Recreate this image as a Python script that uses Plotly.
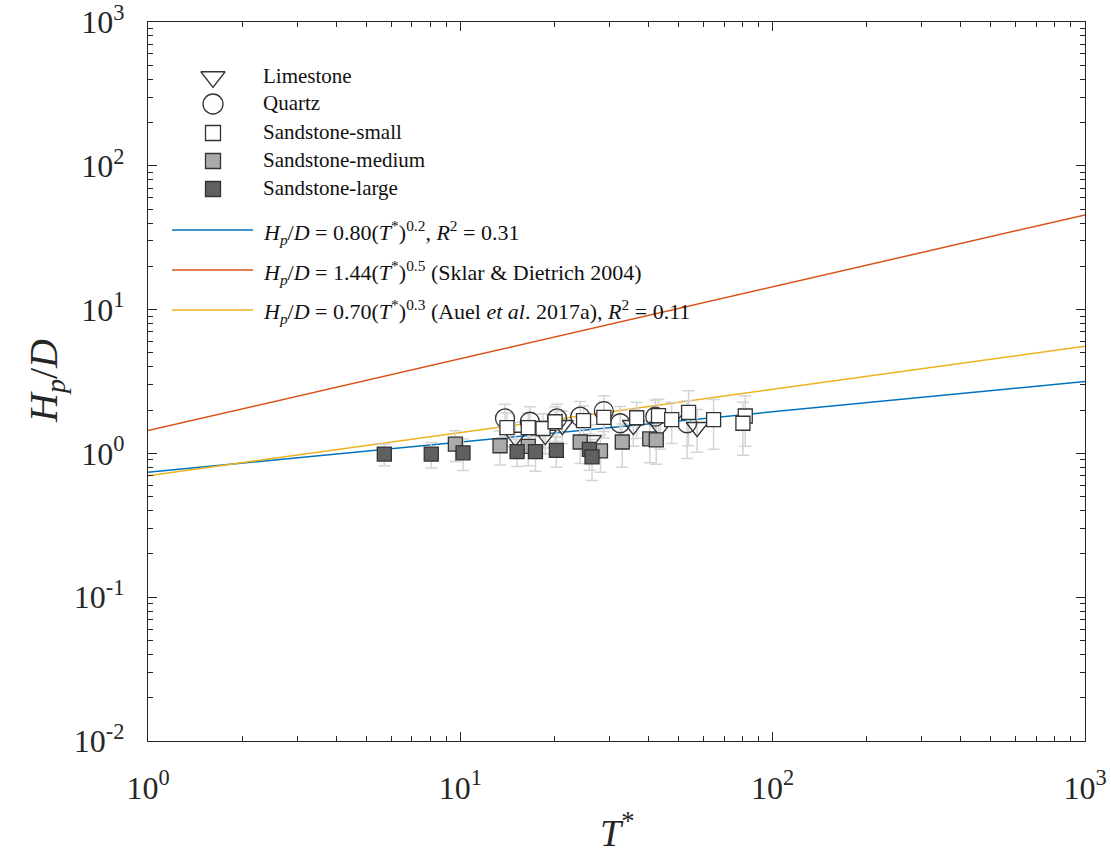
import plotly.graph_objects as go

# ---------------- data ----------------
lime_T = [15.0, 18.7, 21.2, 26.1, 35.8, 43.6, 57.3]
lime_H = [1.30, 1.34, 1.57, 1.23, 1.57, 1.52, 1.52]
lime_E = [0.35, 0.35, 0.40, 0.35, 0.45, 0.45, 0.50]

quartz_T = [13.9, 16.7, 20.4, 24.2, 28.8, 32.5, 42.1, 53.2]
quartz_H = [1.75, 1.66, 1.75, 1.80, 1.97, 1.62, 1.80, 1.62]
quartz_E = [0.45, 0.45, 0.45, 0.50, 0.55, 0.50, 0.55, 0.70]

ss_small_T = [14.1, 16.5, 18.4, 20.1, 24.8, 28.8, 36.7, 43.1, 47.5, 53.8, 64.7, 81.7, 80.3]
ss_small_H = [1.51, 1.51, 1.49, 1.66, 1.69, 1.78, 1.77, 1.83, 1.72, 1.93, 1.72, 1.82, 1.62]
ss_small_E = [0.40, 0.40, 0.40, 0.45, 0.45, 0.50, 0.50, 0.55, 0.55, 0.80, 0.65, 0.70, 0.65]

ss_med_T = [9.64, 13.4, 16.5, 24.2, 28.1, 33.0, 40.4, 42.4]
ss_med_H = [1.16, 1.13, 1.12, 1.20, 1.04, 1.20, 1.26, 1.24]
ss_med_E = [0.28, 0.30, 0.30, 0.35, 0.30, 0.40, 0.40, 0.40]

ss_large_T = [5.71, 8.07, 10.2, 15.2, 17.4, 20.3, 25.9, 26.4]
ss_large_H = [0.99, 0.99, 1.01, 1.03, 1.03, 1.05, 1.065, 0.947]
ss_large_E = [0.17, 0.20, 0.25, 0.22, 0.28, 0.25, 0.30, 0.30]

# fit lines  H/D = a (T*)^b  (coefficients as drawn)
fit_a = [0.74, 1.44, 0.70]
fit_b = [0.21, 0.5, 0.3]
fit_colors = ["#0072BD", "#D95319", "#EDB120"]
fit_labels = [
    "<i>H</i><sub><i>p</i></sub>/<i>D</i> = 0.80(<i>T</i><sup>*</sup>)<sup>0.2</sup>, <i>R</i><sup>2</sup> = 0.31",
    "<i>H</i><sub><i>p</i></sub>/<i>D</i> = 1.44(<i>T</i><sup>*</sup>)<sup>0.5</sup> (Sklar &amp; Dietrich 2004)",
    "<i>H</i><sub><i>p</i></sub>/<i>D</i> = 0.70(<i>T</i><sup>*</sup>)<sup>0.3</sup> (Auel <i>et al</i>. 2017a), <i>R</i><sup>2</sup> = 0.11",
]
fit_T = [1.0, 1000.0]

x_tickvals = [1, 10, 100, 1000]
x_ticktext = ["10<sup>0</sup>", "10<sup>1</sup>", "10<sup>2</sup>", "10<sup>3</sup>"]
y_tickvals = [0.01, 0.1, 1, 10, 100, 1000]
y_ticktext = ["10<sup>-2</sup>", "10<sup>-1</sup>", "10<sup>0</sup>", "10<sup>1</sup>", "10<sup>2</sup>", "10<sup>3</sup>"]

series_names = ["Limestone", "Quartz", "Sandstone-small", "Sandstone-medium", "Sandstone-large"]
x_title = "<i>T</i><sup>*</sup>"
y_title = "<i>H</i><sub><i>p</i></sub>/<i>D</i>"
# ---------------------------------------

FONT = "Liberation Serif"
EDGE = "#333333"
ERRC = "#d4d4d4"

series = [
    (lime_T, lime_H, lime_E, dict(symbol="triangle-down-open", size=19, color=EDGE, line=dict(width=1.3, color=EDGE))),
    (quartz_T, quartz_H, quartz_E, dict(symbol="circle-open", size=19, color=EDGE, line=dict(width=1.3, color=EDGE))),
    (ss_small_T, ss_small_H, ss_small_E, dict(symbol="square", size=14, color="#ffffff", line=dict(width=1.3, color=EDGE))),
    (ss_med_T, ss_med_H, ss_med_E, dict(symbol="square", size=14, color="#aaaaaa", line=dict(width=1.3, color=EDGE))),
    (ss_large_T, ss_large_H, ss_large_E, dict(symbol="square", size=14, color="#606060", line=dict(width=1.3, color=EDGE))),
]

fig = go.Figure()

for a, b, c in zip(fit_a, fit_b, fit_colors):
    fig.add_trace(go.Scatter(x=fit_T, y=[a * t ** b for t in fit_T], mode="lines",
                             line=dict(color=c, width=1.5), showlegend=False, hoverinfo="skip"))

for T, H, E, mk in series:
    fig.add_trace(go.Scatter(x=T, y=H, mode="markers",
                             marker=dict(size=1, color="rgba(0,0,0,0)"),
                             error_y=dict(type="data", array=E, color=ERRC, thickness=1.5, width=6),
                             showlegend=False, hoverinfo="skip"))

for (T, H, E, mk), name in zip(series, series_names):
    fig.add_trace(go.Scatter(x=T, y=H, mode="markers", marker=mk, name=name, showlegend=False))

# ---------- manual legend ----------
L, R, TOP, BOT = 148, 1085, 22, 741
def px(x):
    return (x - L) / (R - L)
def py(y):
    return (BOT - y) / (BOT - TOP)

leg_marker_y = [76, 103, 132, 160, 188]
leg_markers = [
    dict(symbol="triangle-down-open", size=21, color=EDGE, line=dict(width=1.3, color=EDGE)),
    dict(symbol="circle-open", size=20, color=EDGE, line=dict(width=1.3, color=EDGE)),
    dict(symbol="square", size=15, color="#ffffff", line=dict(width=1.3, color=EDGE)),
    dict(symbol="square", size=15, color="#aaaaaa", line=dict(width=1.3, color=EDGE)),
    dict(symbol="square", size=15, color="#606060", line=dict(width=1.3, color=EDGE)),
]
for yy, mk in zip(leg_marker_y, leg_markers):
    fig.add_trace(go.Scatter(x=[px(213)], y=[py(yy + 1)], mode="markers", marker=mk,
                             xaxis="x2", yaxis="y2", showlegend=False, hoverinfo="skip"))
for yy, name in zip(leg_marker_y, series_names):
    fig.add_annotation(x=px(261), y=py(yy), xref="paper", yref="paper", text=name,
                       showarrow=False, xanchor="left", yanchor="middle",
                       font=dict(family=FONT, size=21, color="#111111"))

leg_line_y = [230, 270, 310]
for yy, c, lab in zip(leg_line_y, fit_colors, fit_labels):
    fig.add_trace(go.Scatter(x=[px(172), px(253)], y=[py(yy), py(yy)], mode="lines",
                             line=dict(color=c, width=1.5), xaxis="x2", yaxis="y2",
                             showlegend=False, hoverinfo="skip"))
    fig.add_annotation(x=px(261), y=py(yy + 2), xref="paper", yref="paper", text=lab,
                       showarrow=False, xanchor="left", yanchor="middle",
                       font=dict(family=FONT, size=22, color="#111111"))

# axis titles
fig.add_annotation(x=0.5, y=py(830), xref="paper", yref="paper", text=x_title, showarrow=False,
                   xanchor="center", yanchor="middle", font=dict(family=FONT, size=38, color="#262626"))
fig.add_annotation(x=px(46), y=py(381), xref="paper", yref="paper", text=y_title, showarrow=False,
                   textangle=-90, xanchor="center", yanchor="middle",
                   font=dict(family=FONT, size=40, color="#262626"))

axis_common = dict(
    type="log", showline=True, linecolor="#262626", linewidth=1.2, mirror="allticks",
    ticks="inside", ticklen=9, tickwidth=1, tickcolor="#262626", showgrid=False, zeroline=False,
    automargin=False, ticklabeloverflow="allow",
    tickfont=dict(family=FONT, size=32, color="#262626"),
    minor=dict(ticks="inside", ticklen=5, tickwidth=1, tickcolor="#262626", dtick="D1", showgrid=False),
)

fig.update_layout(
    width=1111, height=856,
    margin=dict(l=L, r=1111 - R, t=TOP, b=856 - BOT),
    plot_bgcolor="white", paper_bgcolor="white",
    font=dict(family=FONT, color="#262626"),
    xaxis=dict(axis_common, range=[0, 3], tickmode="array", tickvals=x_tickvals, ticktext=x_ticktext,
               ticklabelstandoff=18),
    yaxis=dict(axis_common, range=[-2, 3], tickmode="array", tickvals=y_tickvals, ticktext=y_ticktext,
               ticklabelstandoff=16),
    xaxis2=dict(range=[0, 1], overlaying="x", visible=False, fixedrange=True),
    yaxis2=dict(range=[0, 1], overlaying="y", visible=False, fixedrange=True),
    showlegend=False,
)

fig.write_html("out.html")
